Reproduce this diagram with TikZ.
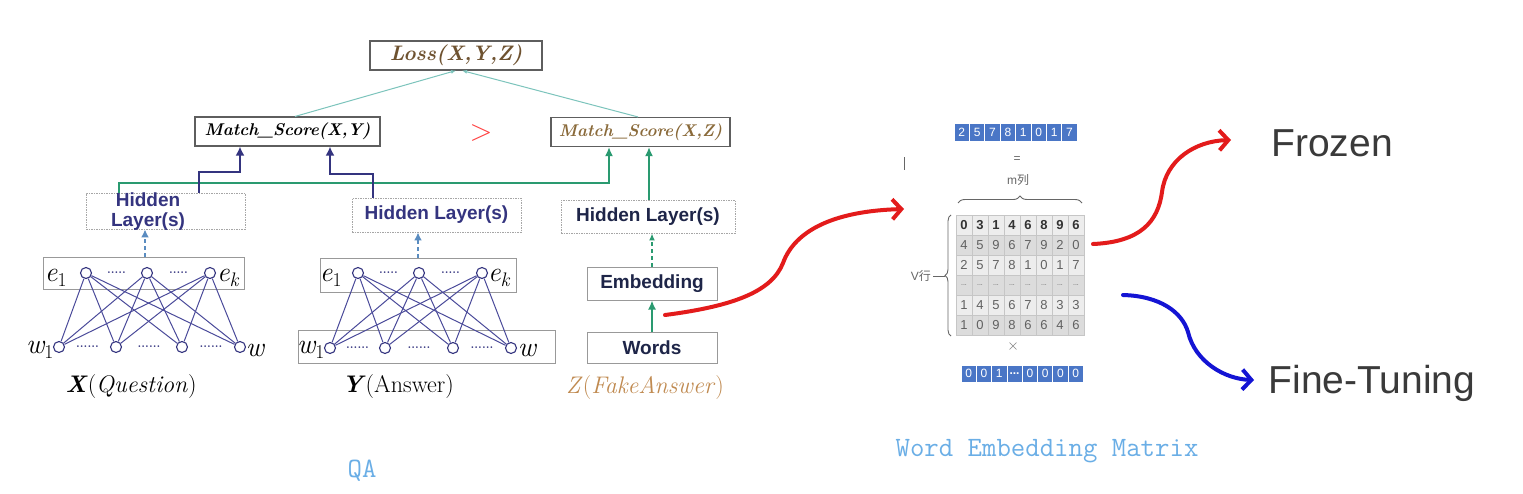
\documentclass[tikz,border=0pt]{standalone}
\usepackage{fontspec}
\usetikzlibrary{arrows.meta,decorations.pathreplacing,calc}
\newfontfamily\arial{Liberation Sans}
\newfontfamily\cjk{Noto Sans CJK SC}
\definecolor{boxgray}{HTML}{5E5E5E}
\definecolor{navyc}{HTML}{34347F}
\definecolor{netc}{HTML}{4A4A9A}
\definecolor{greenc}{HTML}{2A9A70}
\definecolor{tealc}{HTML}{7CC4BC}
\definecolor{steelc}{HTML}{5A8CC0}
\definecolor{redc}{HTML}{E31B1B}
\definecolor{bluec}{HTML}{1414D4}
\definecolor{brownc}{HTML}{6E5230}
\definecolor{brownb}{HTML}{8A6A3A}
\definecolor{tanc}{HTML}{C08A50}
\definecolor{darkt}{HTML}{1E2548}
\definecolor{labblue}{HTML}{6AAEE6}
\definecolor{bigtext}{HTML}{3A3A3A}
\definecolor{cellA}{HTML}{EDEDED}
\definecolor{cellB}{HTML}{DCDCDC}
\definecolor{vecblue}{HTML}{4A76C6}
\tikzset{
  box/.style={draw=boxgray, line width=1.1pt, fill=white, inner sep=0},
  hbox/.style={draw=gray!70, line width=0.9pt, dash pattern=on 1.5pt off 1pt, inner sep=0},
  lbox/.style={draw=gray!80, line width=1pt, inner sep=0},
  mtxt/.style={font=\fontsize{17}{19}\selectfont\bfseries\itshape},
  htxt/.style={font=\arial\bfseries\fontsize{19}{21}\selectfont, align=center},
  enode/.style={circle, draw=navyc, fill=white, line width=1.1pt, minimum size=11pt, inner sep=0},
  netline/.style={draw=netc, line width=1pt},
  dotsn/.style={inner sep=0, text=navyc, font=\fontsize{12}{12}\selectfont\bfseries},
  mlbl/.style={inner sep=0, font=\fontsize{28}{30}\selectfont\itshape},
  blbl/.style={inner sep=0, font=\fontsize{24}{26}\selectfont},
  navyarrow/.style={draw=navyc, line width=2.4pt, -{Latex[length=9pt,width=9pt]}},
  greenarrow/.style={draw=greenc, line width=2.4pt, -{Latex[length=9pt,width=8pt]}},
  tealarrow/.style={draw=tealc, line width=1pt, -{Latex[length=5pt,width=4pt]}},
  dasharrow/.style={draw=steelc, line width=2pt, dash pattern=on 4pt off 3pt, -{Latex[length=8pt,width=8pt]}},
  gdasharrow/.style={draw=greenc, line width=1.8pt, dash pattern=on 4pt off 3pt, -{Latex[length=7pt,width=6pt]}},
  cell/.style={draw=gray!45, line width=0.6pt, minimum width=16pt, minimum height=20pt, inner sep=0, text=black!62, font=\arial\fontsize{13}{13}\selectfont},
  vcell/.style={fill=vecblue, draw=white, line width=0.8pt, minimum height=18pt, inner sep=0, text=white, font=\arial\fontsize{12}{12}\selectfont},
  smalltxt/.style={inner sep=0, text=black!60, font=\arial\fontsize{12}{12}\selectfont},
  bigarrow/.style={line width=4pt, line cap=round, -{Straight Barb[length=9pt,width=20pt]}},
}
\begin{document}
\begin{tikzpicture}[x=1pt,y=-1pt]
\useasboundingbox[fill=white] (0,0) rectangle (1523,493);

% ---------- top boxes ----------
\node[box, minimum width=172pt, minimum height=29pt, mtxt, font=\fontsize{21}{23}\selectfont\bfseries\itshape, text=brownc] (loss) at (456,55.5) {Loss(X,Y,Z)};
\node[box, minimum width=185pt, minimum height=29pt, mtxt, text=black] (mxy) at (287.5,131.5) {Match\_Score(X,Y)};
\node[box, minimum width=179pt, minimum height=29pt, mtxt, text=brownb] (mxz) at (640.5,132) {Match\_Score(X,Z)};
\node[inner sep=0, text=red!75, font=\fontsize{30}{30}\selectfont] (gt) at (481,133) {>};

\coordinate (la) at (295,0);
\coordinate (lb) at (456,0);
\coordinate (lc) at (638,0);
\coordinate (ld) at (462,0);
\draw[tealarrow] (mxy.north -| la) -- (loss.south -| lb);
\draw[tealarrow] (mxz.north -| lc) -- (loss.south -| ld);

% ---------- hidden layers ----------
\node[hbox, minimum width=159pt, minimum height=36pt] (hl1) at (165.5,211) {};
\node[htxt, text=navyc] (hl1t) at (148,212) {Hidden\\[-1pt]Layer(s)};
\node[hbox, minimum width=169pt, minimum height=34pt, htxt, text=navyc] (hl2) at (436.5,215) {Hidden Layer(s)};
\node[hbox, minimum width=174pt, minimum height=33pt, htxt, text=darkt] (hl3) at (648,216.5) {Hidden Layer(s)};

% green connector from left hidden to Match(X,Z)
\coordinate (g1) at (119,183);
\coordinate (g2) at (609,183);
\draw[greenarrow] (hl1.north -| g1) -- (g1) -- (g2) -- (mxz.south -| g2);
\coordinate (g3) at (649,0);
\draw[greenarrow] (hl3.north -| g3) -- (mxz.south -| g3);

% navy connectors
\coordinate (n1) at (199,172);
\coordinate (n2) at (240,172);
\draw[navyarrow] (hl1.north -| n1) -- (n1) -- (n2) -- (mxy.south -| n2);
\coordinate (n3) at (373,174);
\coordinate (n4) at (330,174);
\draw[navyarrow] (hl2.north -| n3) -- (n3) -- (n4) -- (mxy.south -| n4);

% ---------- left network (X) ----------
\node[lbox, minimum width=201pt, minimum height=32pt] (eb1) at (143.5,273) {};
\coordinate (d1) at (145,0);
\draw[dasharrow] (eb1.north -| d1) -- (hl1.south -| d1);
\foreach \n/\x in {1/86,2/147,3/210} \node[enode] (le\n) at (\x,273) {};
\foreach \n/\x in {1/59,2/116,3/182,4/240} \node[enode] (lw\n) at (\x,347) {};
\foreach \i in {1,2,3} \foreach \j in {1,2,3,4} \draw[netline] (le\i) -- (lw\j);
\path (le1) -- node[dotsn] (led1) {.....} (le2);
\path (le2) -- node[dotsn] (led2) {.....} (le3);
\path (lw1) -- node[dotsn] (lwd1) {......} (lw2);
\path (lw2) -- node[dotsn] (lwd2) {......} (lw3);
\path (lw3) -- node[dotsn] (lwd3) {......} (lw4);
\node[mlbl] (le1l) at (56,278) {e\textsubscript{\upshape 1}};
\node[mlbl] (lekl) at (228,278) {e\textsubscript{k}};
\node[mlbl] (lw1l) at (40,350) {w\textsubscript{\upshape 1}};
\node[mlbl] (lwl) at (255,350) {w};
\node[blbl] (xq) at (131,387) {\textbf{\textit{X}}(\textit{Question})};

% ---------- middle network (Y) ----------
\node[lbox, minimum width=196pt, minimum height=34pt] (eb2) at (418,275) {};
\node[lbox, minimum width=257pt, minimum height=33pt] (wb2) at (426.5,346.5) {};
\draw[dasharrow] (eb2.north) -- (hl2.south -| eb2.north);
\foreach \n/\x in {1/358,2/419,3/482} \node[enode] (me\n) at (\x,273) {};
\foreach \n/\x in {1/330,2/385,3/453,4/511} \node[enode] (mw\n) at (\x,348) {};
\foreach \i in {1,2,3} \foreach \j in {1,2,3,4} \draw[netline] (me\i) -- (mw\j);
\path (me1) -- node[dotsn] (med1) {.....} (me2);
\path (me2) -- node[dotsn] (med2) {.....} (me3);
\path (mw1) -- node[dotsn] (mwd1) {......} (mw2);
\path (mw2) -- node[dotsn] (mwd2) {......} (mw3);
\path (mw3) -- node[dotsn] (mwd3) {......} (mw4);
\node[mlbl] (me1l) at (331,278) {e\textsubscript{\upshape 1}};
\node[mlbl] (mekl) at (499,278) {e\textsubscript{k}};
\node[mlbl] (mw1l) at (311,350) {w\textsubscript{\upshape 1}};
\node[mlbl] (mwl) at (527,350) {w};
\node[blbl] (ya) at (398,387) {\textbf{\textit{Y}}(Answer)};

% ---------- right column (Z) ----------
\node[lbox, minimum width=130pt, minimum height=33pt, htxt, text=darkt] (emb) at (652,283.5) {Embedding};
\node[lbox, minimum width=130pt, minimum height=31pt, htxt, text=darkt] (words) at (652,347.5) {Words};
\draw[gdasharrow] (emb.north) -- (hl3.south -| emb.north);
\draw[greenarrow, line width=1.8pt] (words.north) -- (emb.south);
\node[blbl, text=tanc] (zf) at (645,388) {\textit{Z}(\textit{FakeAnswer})};

% ---------- red arrow to matrix ----------
\coordinate (r1s) at (665,315);
\coordinate (r1e) at (904,209);
\draw[bigarrow, draw=redc] (r1s) .. controls (735,306) and (772,291) .. (783,263) .. controls (795,230) and (835,211) .. (r1e);

% ---------- matrix ----------
\foreach \v [count=\c] in {2,5,7,8,1,0,1,7}
  \node[vcell, minimum width=15.4pt] (t-\c) at ({954+15.4*(\c-0.5)},132) {\v};
\foreach \v [count=\c] in {0,0,1,\textbf{...},0,0,0,0}
  \node[vcell, minimum width=15.3pt, minimum height=17pt] (b-\c) at ({961+15.3*(\c-0.5)},373.5) {\v};
\node[smalltxt] (eq) at (1017,160) {=};
\node[smalltxt] (mcol) at (1018,180) {m{\cjk 列}};
\draw[black!60, line width=0.8pt] (904,157) -- (904,170);
\foreach \r/\vals in {1/{0,3,1,4,6,8,9,6},2/{4,5,9,6,7,9,2,0},3/{2,5,7,8,1,0,1,7},5/{1,4,5,6,7,8,3,3},6/{1,0,9,8,6,6,4,6}} {
  \ifodd\r \def\cf{cellA}\else\def\cf{cellB}\fi
  \ifnum\r=1 \def\fw{\bfseries\color{black!80}}\else\def\fw{}\fi
  \foreach \v [count=\c] in \vals
    \node[cell, fill=\cf] (m-\r-\c) at ({956+16*(\c-0.5)},{215+20*(\r-0.5)}) {\fw\v};
}
\foreach \c in {1,...,8}
  \node[cell, fill=cellB, font=\arial\fontsize{7}{7}\selectfont] (m-4-\c) at ({956+16*(\c-0.5)},{215+20*3.5}) {...};
\coordinate (bra) at (958,203);
\coordinate (brb) at (1082,203);
\draw[black!60, line width=0.9pt, decorate, decoration={brace, amplitude=7pt}] (bra) -- (brb);
\coordinate (bl1) at (951,336);
\coordinate (bl2) at (951,215);
\draw[black!60, line width=0.9pt, decorate, decoration={brace, amplitude=6pt}] (bl1) -- (bl2);
\node[smalltxt, anchor=east] (vrow) at (931,276) {V{\cjk 行}};
\coordinate (vtip) at (945,276);
\draw[black!60, line width=0.9pt] (vrow.east) ++(2,0) -- (vtip);
\node[smalltxt, font=\fontsize{16}{16}\selectfont] (times) at (1013,347) {×};

% ---------- frozen / fine-tuning ----------
\node[inner sep=0, text=bigtext, font=\arial\fontsize{39}{40}\selectfont] (frozen) at (1332,143) {Frozen};
\node[inner sep=0, text=bigtext, font=\arial\fontsize{39}{40}\selectfont] (fine) at (1372,383) {Fine-Tuning};
\coordinate (r2s) at (1093,244);
\coordinate (r2e) at (1231,140);
\draw[bigarrow, draw=redc] (r2s) .. controls (1140,242) and (1158,222) .. (1162,192) .. controls (1166,160) and (1195,141) .. (r2e);
\coordinate (b2s) at (1123,295);
\coordinate (b2e) at (1254,380);
\draw[bigarrow, draw=bluec] (b2s) .. controls (1160,296) and (1182,312) .. (1188,332) .. controls (1195,362) and (1225,379) .. (b2e);

% ---------- captions ----------
\node[inner sep=0, text=labblue, font=\ttfamily\fontsize{28}{28}\selectfont] (qa) at (362,471) {QA};
\node[inner sep=0, text=labblue, font=\ttfamily\fontsize{28}{28}\selectfont] (wem) at (1047,451) {Word Embedding Matrix};
\end{tikzpicture}
\end{document}
